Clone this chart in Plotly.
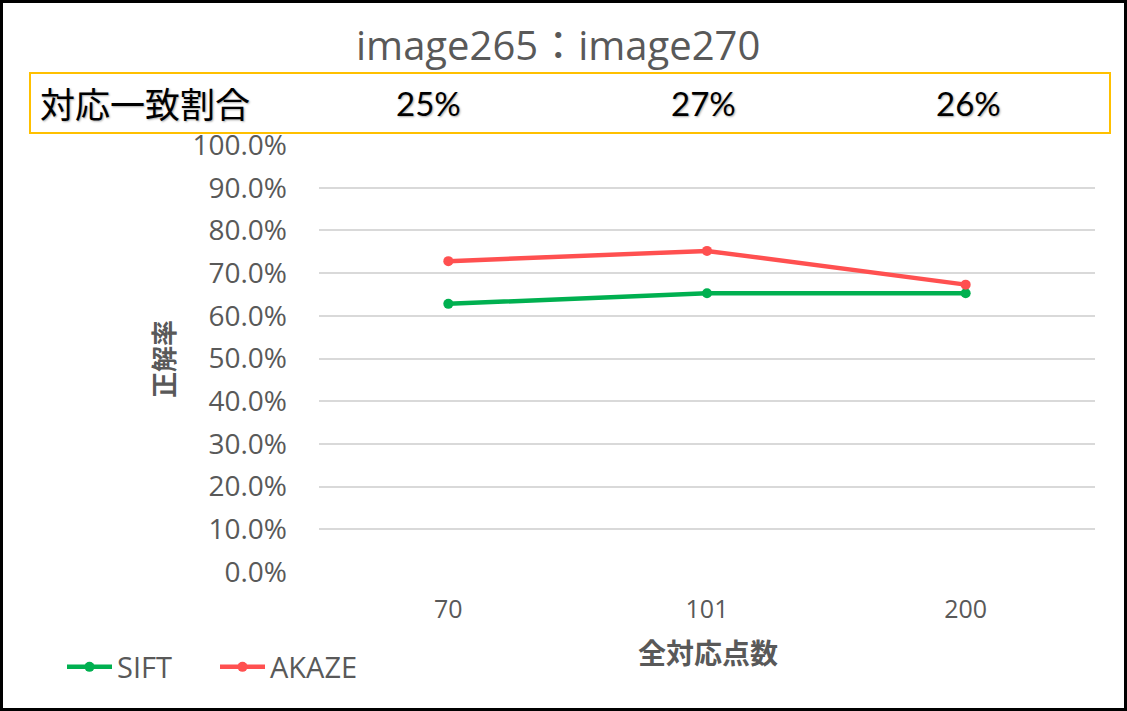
import plotly.graph_objects as go

categories = ["70", "101", "200"]
sift = [0.628, 0.653, 0.653]
akaze = [0.728, 0.752, 0.673]
ratio_title = "対応一致割合"
ratio_labels = ["25%", "27%", "26%"]

W, H = 1127, 711
L, R, T, B = 319, 32, 145, 139
pw, ph = W - L - R, H - T - B

def px(x):
    return (x - L) / pw

def py(y):
    return (H - B - y) / ph

LAT = "Lato, 'Noto Sans CJK JP', sans-serif"
OPS = "'Open Sans', 'Noto Sans CJK JP', sans-serif"
JP = "'Noto Sans CJK JP', sans-serif"
GRAY = "#595959"

fig = go.Figure()
fig.add_trace(go.Scatter(x=categories, y=sift, name="SIFT", mode="lines+markers",
                         line=dict(color="#00b050", width=4.5), marker=dict(size=10)))
fig.add_trace(go.Scatter(x=categories, y=akaze, name="AKAZE", mode="lines+markers",
                         line=dict(color="#ff5050", width=4.5), marker=dict(size=10)))

shapes = [
    dict(type="rect", xref="paper", yref="paper", x0=px(30), x1=px(1110), y0=py(133), y1=py(73),
         line=dict(color="#ffc000", width=2), fillcolor="rgba(0,0,0,0)"),
    dict(type="rect", xref="paper", yref="paper", x0=px(1.5), x1=px(W - 1.5), y0=py(H - 1.5), y1=py(1.5),
         line=dict(color="black", width=3), fillcolor="rgba(0,0,0,0)"),
]

shadow = "1px 1px 2px #aaaaaa"
annotations = [
    dict(text="image265：image270", xref="paper", yref="paper", x=px(558), y=py(45),
         showarrow=False, font=dict(family=OPS, size=40, color=GRAY), xanchor="center", yanchor="middle"),
    dict(text=ratio_title, xref="paper", yref="paper", x=px(38), y=py(102),
         showarrow=False, font=dict(family=JP, size=35, color="black", shadow=shadow),
         xanchor="left", yanchor="middle"),
    dict(text="全対応点数", xref="paper", yref="paper", x=px(708), y=py(652),
         showarrow=False, font=dict(family=JP, size=28, color=GRAY, weight="bold"),
         xanchor="center", yanchor="middle"),
    dict(text="正解率", xref="paper", yref="paper", x=px(162), y=py(359), textangle=-90,
         showarrow=False, font=dict(family=JP, size=26, color=GRAY, weight="bold"),
         xanchor="center", yanchor="middle"),
]
for xpos, lab in zip([428, 703, 968], ratio_labels):
    annotations.append(dict(text=lab, xref="paper", yref="paper", x=px(xpos), y=py(103),
                            showarrow=False,
                            font=dict(family=LAT, size=33, color="black", shadow=shadow),
                            xanchor="center", yanchor="middle"))

fig.update_layout(
    width=W, height=H,
    margin=dict(l=L, r=R, t=T, b=B),
    paper_bgcolor="white", plot_bgcolor="white",
    shapes=shapes, annotations=annotations,
    showlegend=True,
    legend=dict(orientation="h", x=px(62), y=py(667), xanchor="left", yanchor="middle",
                font=dict(family=OPS, size=29, color=GRAY), itemwidth=45, tracegroupgap=0,
                entrywidth=93, entrywidthmode="pixels"),
    xaxis=dict(type="category", range=[-0.5, 2.5], showgrid=False, showline=False, zeroline=False,
               tickfont=dict(family=OPS, size=25, color=GRAY), ticks="", ticklabelstandoff=20),
    yaxis=dict(range=[0, 1], dtick=0.1, tickformat=".1%", showgrid=True, gridcolor="#d9d9d9",
               gridwidth=1.5, zeroline=False, showline=False,
               tickfont=dict(family=OPS, size=28, color=GRAY), ticks="", ticklabelstandoff=31),
)

fig.write_html("out.html", post_script="document.body.style.margin='0px';",
               config={"displayModeBar": False})
